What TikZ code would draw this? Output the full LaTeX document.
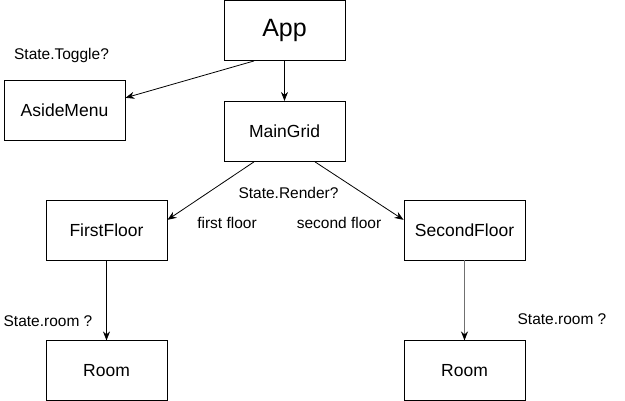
\documentclass[tikz,border=0pt]{standalone}
\usepackage{fontspec}
\setmainfont{Liberation Sans}
\usetikzlibrary{arrows.meta,positioning,calc}
\definecolor{linegrey}{RGB}{112,112,112}

\begin{document}
\begin{tikzpicture}[
   x=1pt, y=-1pt,
   node distance=80pt,
   box/.style={draw, line width=0.9pt, minimum width=121pt, minimum height=60pt,
               inner sep=0pt, font=\fontsize{17.5}{20}\selectfont},
   lbl/.style={inner sep=0pt, font=\fontsize{15.5}{18}\selectfont},
   >={Stealth[length=9pt, width=7pt]}]
  \useasboundingbox (0,0) rectangle (625,401);
  \node[box, font=\fontsize{25}{28}\selectfont] (app) at (284.5,30.5) {App};
  \node[box, below=40pt of app] (main) {MainGrid};
  \node[box] (aside) at (64.5,110) {AsideMenu};
  \node[box] (first) at (106.5,230) {FirstFloor};
  \node[box] (second) at (464.5,230) {SecondFloor};
  \node[box, below=of first] (roomA) {Room};
  \node[box, below=of second] (roomB) {Room};
  % labels
  \node[lbl] (toggle) at (61.5,55) {State.Toggle?};
  \node[lbl] (render) at (288.5,193) {State.Render?};
  \node[lbl] (ffloor) at (227,223) {first floor};
  \node[lbl] (sfloor) at (339,223) {second floor};
  \node[lbl] (roomq1) at (48,321) {State.room ?};
  \node[lbl] (roomq2) at (562,319) {State.room ?};
  % connectors
  \draw[->, line width=0.8pt] ($(app.south)!0.5!(app.south west)$)
     -- ($(aside.east)!0.4!(aside.north east)$);
  \draw[->, line width=0.8pt] (app) -- (main);
  \draw[->, line width=0.8pt] ($(main.south)!0.5!(main.south west)$)
     -- ($(first.east)!0.333!(first.north east)$);
  \draw[->, line width=0.8pt] ($(main.south)!0.5!(main.south east)$)
     -- ($(second.west)!0.333!(second.north west)$);
  \draw[->, line width=0.8pt] (first) -- (roomA);
  \draw[-{Stealth[length=9pt, width=7pt, color=black]}, line width=1.4pt,
        draw=linegrey] (second) -- (roomB);
\end{tikzpicture}
\end{document}
